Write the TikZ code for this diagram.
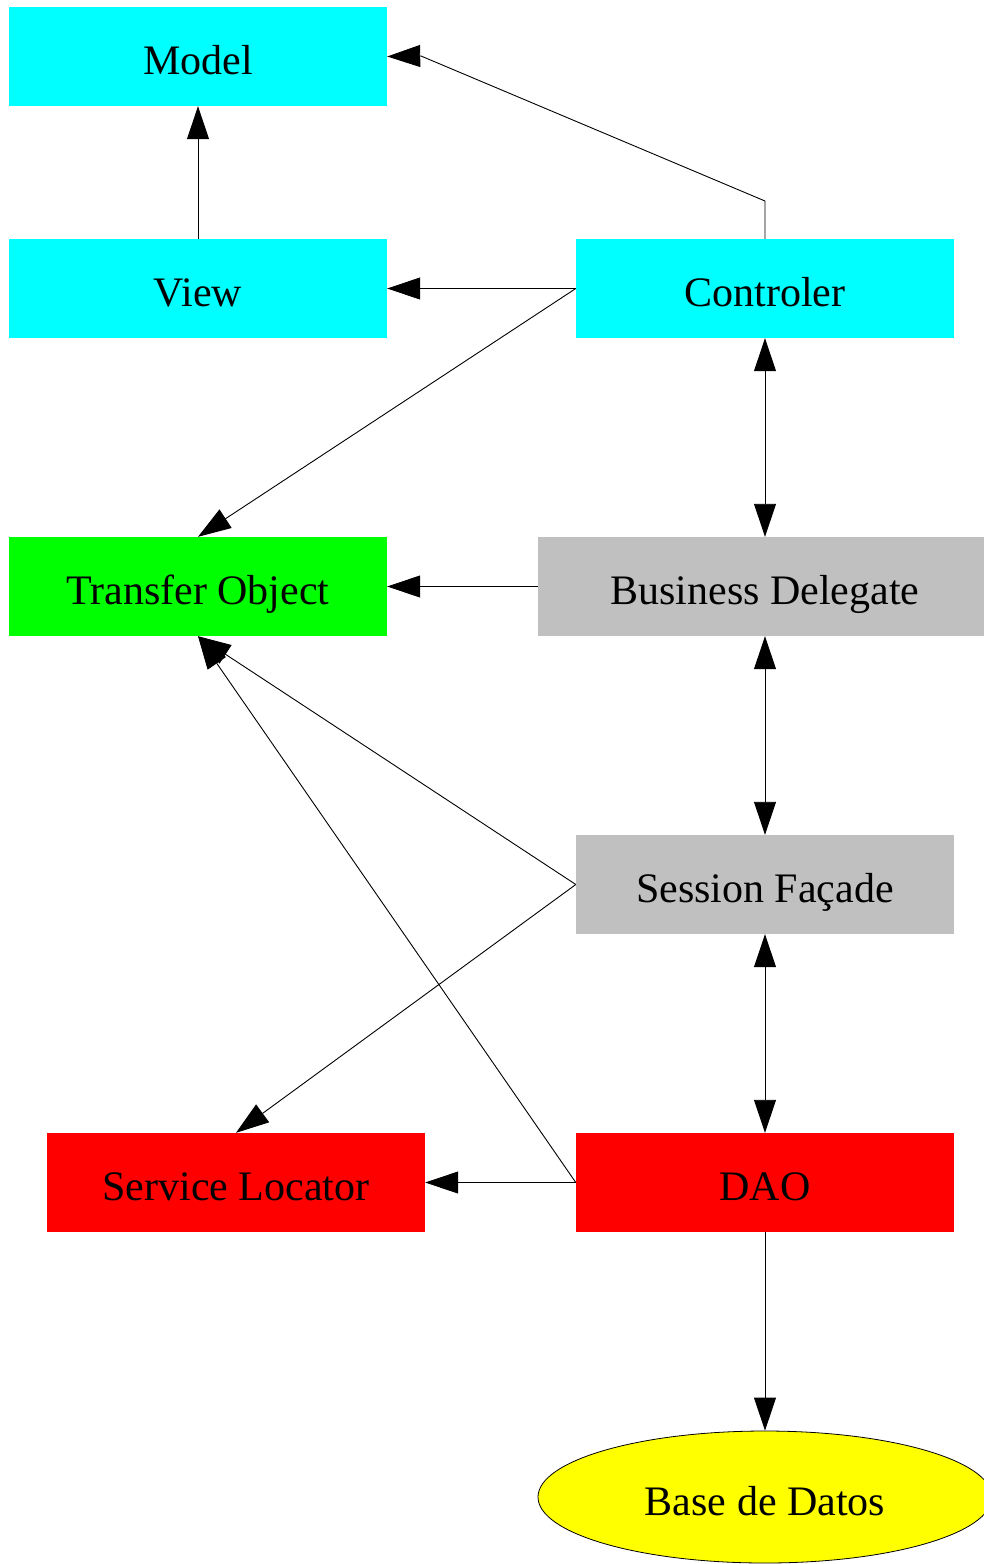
\documentclass[tikz,border=0pt]{standalone}
\usepackage{fontspec}
\setmainfont{Liberation Serif}
\usetikzlibrary{arrows.meta,shapes.geometric}
\definecolor{cyanbox}{HTML}{00FFFF}
\definecolor{greenbox}{HTML}{00FF00}
\definecolor{graybox}{HTML}{C0C0C0}
\definecolor{redbox}{HTML}{FF0000}
\definecolor{yellowbox}{HTML}{FFFF00}
\tikzset{
  label font/.style={font=\fontsize{42}{50}\selectfont, text=black, text height=36pt, text depth=0pt},
  box/.style={rectangle, inner sep=0pt, minimum width=378pt, minimum height=99pt, label font},
  dbnode/.style={ellipse, draw=black, line width=0.8pt, fill=yellowbox, inner sep=0pt,
    minimum width=454pt, minimum height=132pt, label font},
  link/.style={draw=black, line width=0.9pt, -{Triangle[length=33pt,width=22pt]}},
  biLink/.style={draw=black, line width=0.9pt, {Triangle[length=33pt,width=22pt]}-{Triangle[length=33pt,width=22pt]}}
}
\begin{document}
\begin{tikzpicture}[x=1pt,y=-1pt]
\useasboundingbox (0,0) rectangle (984,1564);
% layers of the architecture
\node[box, fill=cyanbox] (model) at (198,56.5) {Model};
\node[box, fill=cyanbox] (view) at (198,288.5) {View};
\node[box, fill=cyanbox] (ctrl) at (765,288.5) {Controler};
\node[box, fill=greenbox] (to) at (198,586.5) {Transfer Object};
\node[box, fill=graybox, minimum width=454pt] (bd) at (765,586.5) {Business Delegate};
\node[box, fill=graybox] (sf) at (765,884.5) {Session Façade};
\node[box, fill=redbox] (sl) at (236,1182.5) {Service Locator};
\node[box, fill=redbox] (dao) at (765,1182.5) {DAO};
\node[dbnode] (db) at (765,1497) {Base de Datos};
% dependencies
\coordinate (cbend) at (765,201);
\coordinate (mbend) at (421,56);
\draw[link] (ctrl.north) -- (cbend) -- (mbend) -- (model.east);
\draw[link] (view.north) -- (model.south);
\draw[link] (ctrl.west) -- (view.east);
\draw[link] (ctrl.west) -- (to.north);
\draw[biLink] (ctrl.south) -- (bd.north);
\draw[link] (bd.west) -- (to.east);
\draw[biLink] (bd.south) -- (sf.north);
\draw[link] (sf.west) -- (to.south);
\draw[link] (sf.west) -- (sl.north);
\draw[biLink] (sf.south) -- (dao.north);
\draw[link] (dao.west) -- (sl.east);
\draw[link] (dao.west) -- (to.south);
\draw[link] (dao.south) -- (db.north);
\end{tikzpicture}
\end{document}
